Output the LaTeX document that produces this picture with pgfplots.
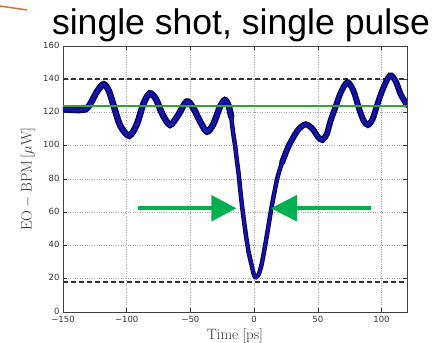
\documentclass[border=0pt]{standalone}
\usepackage{pgfplots}
\pgfplotsset{compat=1.18}
\usepackage{fontspec}
\newfontfamily\tickfont{DejaVu Sans}
\newfontfamily\titlefont{Liberation Sans}
\definecolor{curveblue}{RGB}{20,20,170}
\definecolor{curveedge}{RGB}{5,5,90}
\definecolor{linegreen}{RGB}{50,165,50}
\definecolor{arrowgreen}{RGB}{0,176,80}
\definecolor{slideorange}{RGB}{224,110,60}
\pgfplotstableread{
t v
-150 122
-140 121.5
-132 122
-128 126
-123 133
-118 137
-114 133
-110 123.5
-105 112
-98 106
-92 113
-87 125
-82 131.5
-77 128
-72 119
-66 112.5
-60 118
-53 126.5
-48 123
-42 114
-37 108.5
-32 113
-27 123
-23 127.5
-20 124
-18 117.5
}\segA
\pgfplotstableread{
t v
-18 117.5
-16.5 108
-14.8 99.4
-13.5 91
-12.2 83.4
-10.8 73
-9.4 63.4
-7.8 54
-6.25 45.3
-4.3 36
-2.3 29.3
0 22
1.6 20.9
3.5 22.5
5.5 27.3
7.5 35
9.4 43.3
11.3 52
13.3 61.4
15.8 71.5
18.5 81.4
22 90
}\segB
\pgfplotstableread{
t v
22 90
26.3 98.5
30 104
35 110
40.6 112.9
46 110
50 105.5
53.6 103.5
57 107
60 115
64 123.5
68 132
73.2 138.2
78 133
82.3 122.5
86 115
89.3 112.5
93 116
96.6 124.5
101 134
106.5 142.2
111 139
115 131
120 124.5
}\segC
\begin{document}
\begin{tikzpicture}
\useasboundingbox (-63pt,-31pt) rectangle (374pt,312pt);
\begin{axis}[
  at={(0,0)}, anchor=south west,
  scale only axis, width=344pt, height=266pt,
  xmin=-150, xmax=120, ymin=0, ymax=160,
  xtick={-150,-100,-50,0,50,100},
  xticklabels={−150,−100,−50,0,50,100},
  ytick={0,20,40,60,80,100,120,140,160},
  yticklabels={0,20,40,60,80,100,120,140,160},
  tick pos=both, tick align=inside,
  major tick length=4pt,
  tick style={gray!40!black, line width=0.5pt},
  ticklabel style={font=\tickfont\fontsize{8.5}{10}\selectfont, text=black!80},
  xticklabel style={yshift=-1pt},
  yticklabel style={yshift=1pt},
  xmajorgrids, ymajorgrids,
  major grid style={dotted, gray!70, line width=0.6pt},
  axis line style={gray!50!black, line width=0.7pt},
  xlabel={$\mathrm{Time}\;[\mathrm{ps}]$},
  ylabel={$\mathrm{EO-BPM}\,[\mu\mathrm{W}]$},
  label style={font=\fontsize{15}{17}\selectfont, text=black!80},
  xlabel style={at={(axis description cs:0.5,-0.105)}, anchor=base},
  ylabel style={at={(axis description cs:-0.102,0.5)}, anchor=center},
]
\addplot[black!80, line width=1.6pt, dash pattern=on 5pt off 3pt] coordinates {(-150,140) (120,140)};
\addplot[black!80, line width=1.6pt, dash pattern=on 5pt off 3pt] coordinates {(-150,18) (120,18)};
\addplot[color=curveedge, line width=6.5pt, smooth, tension=0.5, line cap=round] table[x=t,y=v] {\segA};
\addplot[color=curveedge, line width=6pt, smooth, tension=0.5, line cap=round] table[x=t,y=v] {\segC};
\addplot[color=curveedge, line width=4.5pt, smooth, tension=0.5, line cap=round] table[x=t,y=v] {\segB};
\addplot[color=curveblue, line width=3.5pt, smooth, tension=0.5, line cap=round] table[x=t,y=v] {\segA};
\addplot[color=curveblue, line width=3pt, smooth, tension=0.5, line cap=round] table[x=t,y=v] {\segC};
\addplot[color=curveblue, line width=2.5pt, smooth, tension=0.5, line cap=round] table[x=t,y=v] {\segB};
\addplot[color=linegreen, line width=1.4pt] coordinates {(-150,124) (120,124)};
\draw[arrowgreen, line width=4pt] (axis cs:-91.4,62.4) -- (axis cs:-32,62.4);
\fill[arrowgreen] (axis cs:-14,62.4) -- ([yshift=13.3pt]axis cs:-33.6,62.4) -- ([yshift=-13.3pt]axis cs:-33.6,62.4) -- cycle;
\draw[arrowgreen, line width=4pt] (axis cs:91.4,62.4) -- (axis cs:32,62.4);
\fill[arrowgreen] (axis cs:13.3,62.4) -- ([yshift=13.3pt]axis cs:33.6,62.4) -- ([yshift=-13.3pt]axis cs:33.6,62.4) -- cycle;
\end{axis}
\node[anchor=base, font=\titlefont\fontsize{35.6}{40}\selectfont] at (178pt,277pt) {single shot, single pulse};
\draw[slideorange, line width=1.5pt] (-63pt,306pt) -- (-36pt,302pt);
\end{tikzpicture}
\end{document}
